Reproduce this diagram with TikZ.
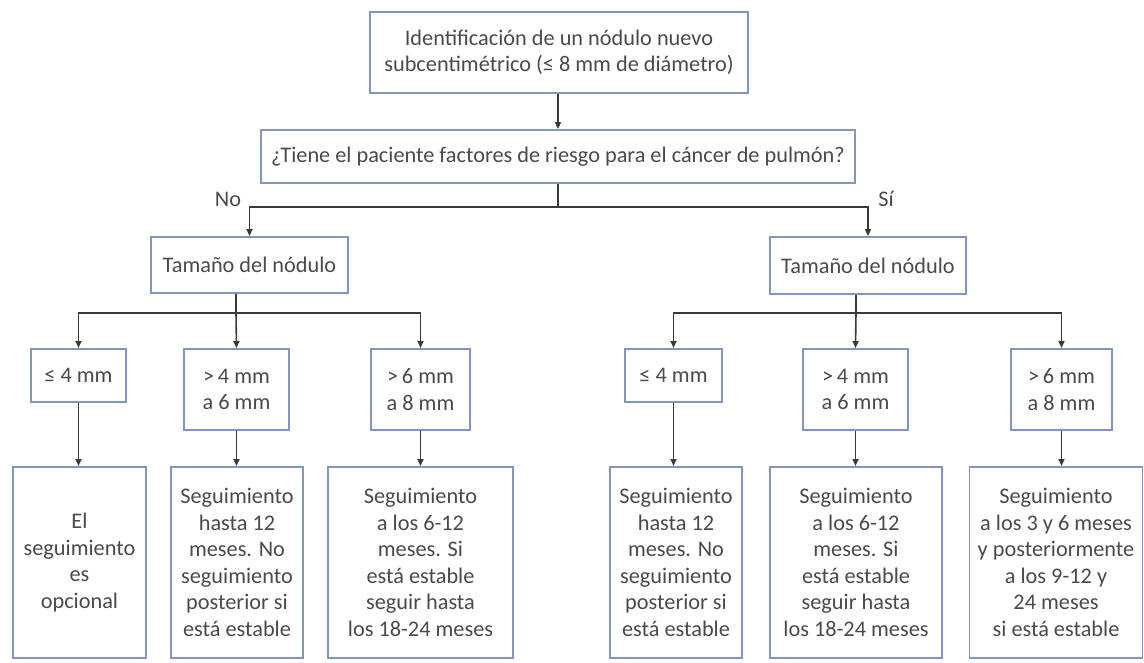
\documentclass[tikz,border=0pt]{standalone}
\usepackage{fontspec}
\setmainfont{Carlito}
\usetikzlibrary{arrows.meta}
\definecolor{boxcol}{HTML}{8394BE}
\definecolor{txtcol}{HTML}{4A4A4A}
\definecolor{lncol}{HTML}{3A3A3A}
\begin{document}
\begin{tikzpicture}[x=1pt,y=-1pt,
  box/.style={draw=boxcol, line width=1.8pt, fill=white, text=txtcol, align=center,
    inner sep=0pt, font=\fontsize{22.3}{26.6}\selectfont},
  conn/.style={draw=lncol, line width=1.6pt},
  arr/.style={conn, -{Triangle[length=7pt,width=6pt]}},
  lbl/.style={text=txtcol, font=\fontsize{22.3}{26.6}\selectfont, inner sep=0pt}]
\useasboundingbox (0,0) rectangle (1144,662);
\fill[white] (0,0) rectangle (1144,662);
% top
\node[box, minimum width=378pt, minimum height=81pt] (top) at (559,52.5)
  {Identificación de un nódulo nuevo\\subcentimétrico (≤ 8 mm de diámetro)};
\node[box, minimum width=594pt, minimum height=53pt] (q) at (558,156.5)
  {¿Tiene el paciente factores de riesgo para el cáncer de pulmón?};
\node[box, minimum width=197pt, minimum height=56pt] (tamL) at (249.5,265) {Tamaño del nódulo};
\node[box, minimum width=196pt, minimum height=57pt] (tamR) at (868,265.5) {Tamaño del nódulo};
% size boxes
\node[box, minimum width=95pt, minimum height=53pt, anchor=north] (L1) at (78.5,348) {≤ 4 mm};
\node[box, minimum width=105pt, minimum height=81pt, anchor=north] (L2) at (236.5,348) {>\,4 mm\\a 6 mm};
\node[box, minimum width=99pt, minimum height=81pt, anchor=north] (L3) at (420.5,348) {>\,6 mm\\a 8 mm};
\node[box, minimum width=97pt, minimum height=53pt, anchor=north] (R1) at (673.5,348) {≤ 4 mm};
\node[box, minimum width=105pt, minimum height=81pt, anchor=north] (R2) at (855.5,348) {>\,4 mm\\a 6 mm};
\node[box, minimum width=101pt, minimum height=81pt, anchor=north] (R3) at (1061.5,348) {>\,6 mm\\a 8 mm};
% bottom boxes
\node[box, minimum width=133pt, minimum height=191pt, anchor=north] (B1) at (79.5,466)
  {El\\seguimiento\\es\\opcional};
\node[box, minimum width=132pt, minimum height=191pt, anchor=north] (B2) at (237,466)
  {Seguimiento\\hasta 12\\meses. No\\seguimiento\\posterior si\\está estable};
\node[box, minimum width=185pt, minimum height=191pt, anchor=north] (B3) at (420.5,466)
  {Seguimiento\\a los 6-12\\meses. Si\\está estable\\seguir hasta\\los 18-24 meses};
\node[box, minimum width=132pt, minimum height=191pt, anchor=north] (B4) at (676,466)
  {Seguimiento\\hasta 12\\meses. No\\seguimiento\\posterior si\\está estable};
\node[box, minimum width=172pt, minimum height=191pt, anchor=north] (B5) at (856,466)
  {Seguimiento\\a los 6-12\\meses. Si\\está estable\\seguir hasta\\los 18-24 meses};
\node[box, minimum width=173pt, minimum height=191pt, anchor=north] (B6) at (1056,466)
  {Seguimiento\\a los 3 y 6 meses\\y posteriormente\\a los 9-12 y\\24 meses\\si está estable};
% connectors
\draw[arr] (top.south -| q.north) -- (q.north);
\coordinate (jq) at (558,207);
\draw[conn] (q.south) -- (jq);
\draw[arr] (jq) -| (tamL.north);
\draw[arr] (jq) -| (tamR.north);
\node[lbl] (no) at (228,199) {No};
\node[lbl] (si) at (886,199) {Sí};
\coordinate (jL) at (236,313);
\draw[conn] (jL |- tamL.south) -- (jL);
\draw[arr] (jL) -| (L1.north);
\draw[arr] (jL) -- (L2.north);
\draw[arr] (jL) -| (L3.north);
\coordinate (jR) at (856,313);
\draw[conn] (jR |- tamR.south) -- (jR);
\draw[arr] (jR) -| (R1.north);
\draw[arr] (jR) -- (R2.north);
\draw[arr] (jR) -| (R3.north);
\draw[arr] (L1.south) -- (B1.north -| L1.south);
\draw[arr] (L2.south) -- (B2.north -| L2.south);
\draw[arr] (L3.south) -- (B3.north -| L3.south);
\draw[arr] (R1.south) -- (B4.north -| R1.south);
\draw[arr] (R2.south) -- (B5.north -| R2.south);
\draw[arr] (R3.south) -- (B6.north -| R3.south);
\end{tikzpicture}
\end{document}
